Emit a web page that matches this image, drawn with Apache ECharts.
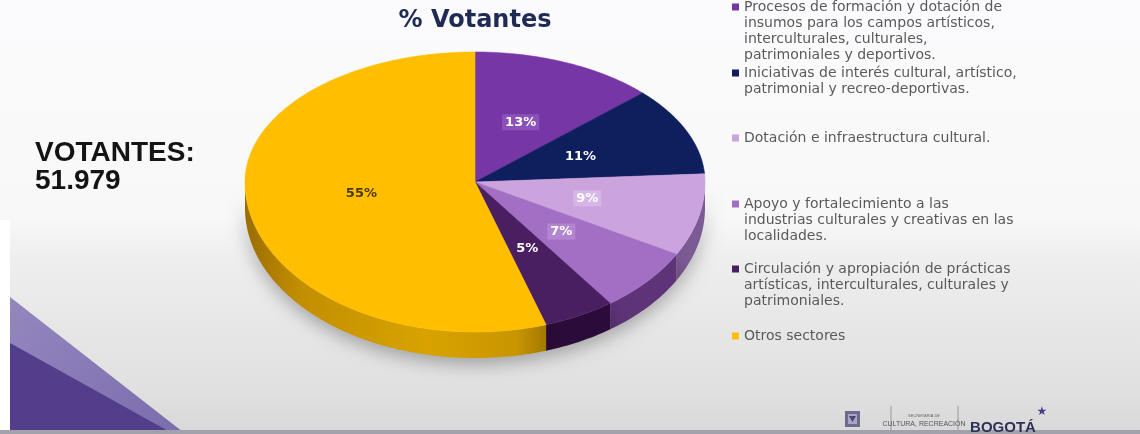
<!DOCTYPE html>
<html>
<head>
<meta charset="utf-8">
<script src="https://cdn.jsdelivr.net/npm/echarts@6/dist/echarts.min.js"></script>
<style>
  html, body { margin: 0; padding: 0; background: #fff; }
  #chart { width: 1140px; height: 434px; }
</style>
</head>
<body>
<div id="chart"></div>
<script>
// data
var categories = [
  'Procesos de formación y dotación de\ninsumos para los campos artísticos,\ninterculturales, culturales,\npatrimoniales y deportivos.',
  'Iniciativas de interés cultural, artístico,\npatrimonial y recreo-deportivas.',
  'Dotación e infraestructura cultural.',
  'Apoyo y fortalecimiento a las\nindustrias culturales y creativas en las\nlocalidades.',
  'Circulación y apropiación de prácticas\nartísticas, interculturales, culturales y\npatrimoniales.',
  'Otros sectores'
];
var values = [13, 11, 9, 7, 5, 55];
var chartTitle = '% Votantes';
var totalLabel = 'VOTANTES:';
var totalValue = '51.979';

// styles
var topColors = ['#7736A6', '#0F1F5E', '#CBA3DD', '#A36FC5', '#4A1F62', '#FFBF00'];
var sideColors = ['#4E1C70', '#08123A', '#7C5A94', '#5E3378', '#2B0B39', null];
var labelBox = ['#8A52B8', null, '#D6B6E6', '#B385D0', null, '#FFBF00'];
var labelFill = ['#fff', '#fff', '#fff', '#fff', '#fff', '#4a3a00'];
var legendFirstLine = [7, 73, 138, 204, 269, 336];

// 3d pie geometry
var CX = 475, CY = 182, RX = 230, RY_BACK = 130, RY_FRONT = 150, DEPTH = 26;
var total = values.reduce(function (s, v) { return s + v; }, 0);
var startAngles = [];
values.reduce(function (acc, v, i) { startAngles[i] = acc; return acc + v / total * Math.PI * 2; }, 0);

function pt(t, r) {
  var c = Math.cos(t);
  var ry = c > 0 ? RY_BACK : RY_FRONT;
  return [CX + RX * r * Math.sin(t), CY - ry * r * c];
}
function arc(a, b) {
  var n = Math.max(4, Math.ceil(Math.abs(b - a) / 0.02));
  var out = [];
  for (var k = 0; k <= n; k++) out.push(pt(a + (b - a) * k / n, 1));
  return out;
}

function renderSlice(i) {
  var a = startAngles[i];
  var b = a + values[i] / total * Math.PI * 2;
  var children = [];
  var a2 = Math.max(a, Math.PI / 2), b2 = Math.min(b, Math.PI * 1.5);
  if (a2 < b2) {
    var top = arc(a2, b2);
    var bottom = arc(b2, a2).map(function (p) { return [p[0], p[1] + DEPTH]; });
    var fill = sideColors[i] || new echarts.graphic.LinearGradient(0, 0, 1, 0, [
      { offset: 0, color: '#9a6d00' },
      { offset: 0.18, color: '#c28e00' },
      { offset: 0.6, color: '#d8a300' },
      { offset: 0.9, color: '#c99500' },
      { offset: 1, color: '#a47800' }
    ]);
    children.push({
      type: 'polygon', z2: 1,
      shape: { points: top.concat(bottom) },
      style: { fill: fill, shadowBlur: 18, shadowOffsetY: 6, shadowColor: 'rgba(0,0,0,0.3)' }
    });
  }
  children.push({
    type: 'polygon', z2: 5,
    shape: { points: [[CX, CY]].concat(arc(a, b)) },
    style: { fill: topColors[i], stroke: topColors[i], lineWidth: 0.6 }
  });
  var lp = pt((a + b) / 2, 0.5);
  var ts = {
    text: values[i] + '%', fill: labelFill[i], font: 'bold 13px "DejaVu Sans", sans-serif',
    align: 'center', verticalAlign: 'middle'
  };
  if (labelBox[i]) {
    ts.backgroundColor = labelBox[i];
    ts.padding = [2, 3, 1, 3];
    ts.boxShadowColor = 'rgba(0,0,0,0.35)';
    ts.boxShadowBlur = 2;
    ts.boxShadowOffsetX = 2;
    ts.boxShadowOffsetY = 2;
  }
  children.push({ type: 'text', z2: 10, x: lp[0], y: lp[1], style: ts });
  return { type: 'group', children: children };
}

var chart = echarts.init(document.getElementById('chart'));

var graphics = [
  { type: 'rect', z: -10, shape: { x: 0, y: 0, width: 1140, height: 434 },
    style: { fill: new echarts.graphic.LinearGradient(0, 0, 0, 1, [
      { offset: 0, color: '#fbfbfd' },
      { offset: 0.5, color: '#f8f8f8' },
      { offset: 0.6, color: '#eeeeee' },
      { offset: 0.9, color: '#e0e0e0' },
      { offset: 1, color: '#d8d8d8' }
    ]) } },
  { type: 'rect', z: -9, shape: { x: 0, y: 220, width: 10, height: 214 }, style: { fill: '#ffffff' } },
  { type: 'polygon', z: -8, shape: { points: [[10, 297], [183, 432], [10, 432]] },
    style: { fill: new echarts.graphic.LinearGradient(0, 0, 1, 1, [
      { offset: 0, color: '#9487bf' }, { offset: 1, color: '#7b6cad' }]) } },
  { type: 'polygon', z: -7, shape: { points: [[10, 343], [170, 432], [10, 432]] }, style: { fill: '#533e8c' } },
  { type: 'rect', z: -6, shape: { x: 0, y: 430, width: 1140, height: 4 }, style: { fill: '#a2a2ab' } },
  { type: 'text', x: 475, y: 21, style: { text: chartTitle, fill: '#1f2a55', font: 'bold 24px "DejaVu Sans", sans-serif', align: 'center', verticalAlign: 'middle' } },
  { type: 'text', x: 35, y: 153, style: { text: totalLabel, fill: '#141414', font: 'bold 28px "Liberation Sans", Arial, sans-serif', verticalAlign: 'middle' } },
  { type: 'text', x: 35, y: 181, style: { text: totalValue, fill: '#141414', font: 'bold 28px "Liberation Sans", Arial, sans-serif', verticalAlign: 'middle' } },
  // footer logos
  { type: 'rect', shape: { x: 845, y: 411, width: 15, height: 16 }, style: { fill: '#6d6a8e' } },
  { type: 'rect', shape: { x: 848, y: 414, width: 9, height: 10 }, style: { fill: '#a9a6c4' } },
  { type: 'polygon', shape: { points: [[849, 416], [856, 416], [852.5, 422]] }, style: { fill: '#4b4870' } },
  { type: 'line', shape: { x1: 891, y1: 406, x2: 891, y2: 430 }, style: { stroke: '#9a9a9a', lineWidth: 1 } },
  { type: 'line', shape: { x1: 958, y1: 406, x2: 958, y2: 430 }, style: { stroke: '#9a9a9a', lineWidth: 1 } },
  { type: 'text', x: 924, y: 416, style: { text: 'SECRETARÍA DE', fill: '#666', font: '4px "Liberation Sans", Arial, sans-serif', align: 'center', verticalAlign: 'middle' } },
  { type: 'text', x: 924, y: 424, style: { text: 'CULTURA, RECREACIÓN', fill: '#555', font: '7px "Liberation Sans", Arial, sans-serif', align: 'center', verticalAlign: 'middle' } },
  { type: 'text', x: 1003, y: 428, style: { text: 'BOGOTÁ', fill: '#2e3058', font: 'bold 15px "Liberation Sans", Arial, sans-serif', align: 'center', verticalAlign: 'middle' } },
  { type: 'text', x: 1042, y: 412, style: { text: '★', fill: '#4b3a8a', font: '12px "DejaVu Sans", sans-serif', align: 'center', verticalAlign: 'middle' } }
];

// one legend per item so each block sits where the slide puts it;
// blank lines in front keep the square on the first line of text
var legends = categories.map(function (name, i) {
  var n = name.split('\n').length;
  return {
    data: [name],
    orient: 'vertical',
    left: 732,
    top: legendFirstLine[i] - (2 * n - 1) * 8,
    padding: 0,
    icon: 'rect',
    itemWidth: 7,
    itemHeight: 7,
    selectedMode: false,
    formatter: function (nm) { return new Array(n).join('\n') + nm; },
    textStyle: {
      fontFamily: '"DejaVu Sans", sans-serif',
      fontSize: 14,
      lineHeight: 16,
      color: '#5a5a5a'
    }
  };
});

var series = categories.map(function (name, i) {
  return {
    type: 'custom',
    name: name,
    coordinateSystem: 'none',
    itemStyle: { color: topColors[i] },
    data: [values[i]],
    renderItem: function () { return renderSlice(i); }
  };
});

chart.setOption({
  animation: false,
  backgroundColor: '#ffffff',
  graphic: graphics,
  legend: legends,
  series: series
});
</script>
</body>
</html>
